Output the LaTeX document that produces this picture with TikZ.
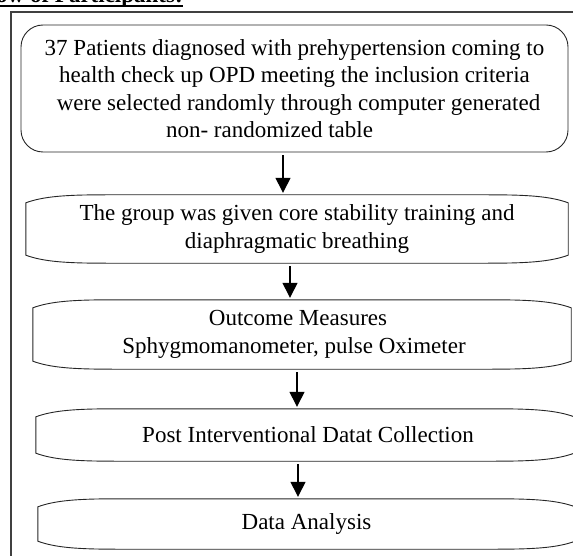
\documentclass[tikz,border=0pt]{standalone}
\usepackage{fontspec}
\setmainfont{Liberation Serif}
\usetikzlibrary{arrows.meta,calc}

\tikzset{
  box/.style={draw=black!85, line width=0.9pt, rounded corners=22pt, align=center, inner sep=0pt,
    font=\fontsize{23}{27.3}\selectfont},
  scroll/.style={align=center, inner sep=0pt, font=\fontsize{23}{28}\selectfont},
  flow/.style={line width=1.4pt, -{Triangle[length=15pt,width=15pt]}}
}
\newcommand{\scrollframe}[1]{%
  \draw[line width=0.9pt, black!85]
    ($(#1.north west)+(0,8)$) .. controls ($(#1.north west)+(18,1.5)$) and ($(#1.north west)+(40,0)$) .. ($(#1.north west)+(80,0)$)
    -- ($(#1.north east)+(-80,0)$) .. controls ($(#1.north east)+(-40,0)$) and ($(#1.north east)+(-18,1.5)$) .. ($(#1.north east)+(0,8)$)
    -- ($(#1.south east)+(0,-8)$) .. controls ($(#1.south east)+(-18,-1.5)$) and ($(#1.south east)+(-40,0)$) .. ($(#1.south east)+(-80,0)$)
    -- ($(#1.south west)+(80,0)$) .. controls ($(#1.south west)+(40,0)$) and ($(#1.south west)+(18,-1.5)$) .. ($(#1.south west)+(0,-8)$)
    -- cycle;}

\begin{document}
\begin{tikzpicture}[x=1pt,y=-1pt]
  \useasboundingbox (0,0) rectangle (573,556);
  \clip (0,0) rectangle (573,556);

  \node[anchor=base west, inner sep=0pt, font=\bfseries\fontsize{23}{27}\selectfont] (title) at (-4,3) {ow of Participants:};
  \draw[line width=1.5pt] ([yshift=-3pt]title.base west) -- ([yshift=-3pt]title.base east);

  \draw[line width=1.2pt, black!75] (580,12) -- (11,12) -- (11,560);

  \node[box, minimum width=547pt, minimum height=127pt] (box1) at (294.5,88.5)
    {37 Patients diagnosed with prehypertension coming to\\
     health check up OPD meeting the inclusion criteria\\
     \hspace*{8pt}were selected randomly through computer generated\\
     non- randomized table\hspace*{50pt}};
  \node[scroll, minimum width=542pt, minimum height=68pt] (box2) at (297,229)
    {The group was given core stability training and\\ diaphragmatic breathing};
  \node[scroll, minimum width=538pt, minimum height=69pt] (box3) at (302,334.5)
    {Outcome Measures\hspace*{8pt}\\ Sphygmomanometer, pulse Oximeter\hspace*{16pt}};
  \node[scroll, minimum width=538pt, minimum height=52pt] (box4) at (305,435)
    {Post Interventional Datat Collection\hspace*{-6pt}};
  \node[scroll, minimum width=537pt, minimum height=50pt] (box5) at (306.5,524)
    {Data Analysis};

  \scrollframe{box2}
  \scrollframe{box3}
  \scrollframe{box4}
  \scrollframe{box5}

  \draw[flow] ([xshift=-11.5pt,yshift=-3pt]box1.south) -- ([xshift=-14pt,yshift=2pt]box2.north);
  \draw[flow] ([xshift=-7pt,yshift=-3pt]box2.south) -- ([xshift=-12pt,yshift=2pt]box3.north);
  \draw[flow] ([xshift=-5pt,yshift=-3pt]box3.south) -- ([xshift=-8pt,yshift=2pt]box4.north);
  \draw[flow] ([xshift=-7pt,yshift=-3pt]box4.south) -- ([xshift=-8.5pt,yshift=2pt]box5.north);
\end{tikzpicture}
\end{document}
